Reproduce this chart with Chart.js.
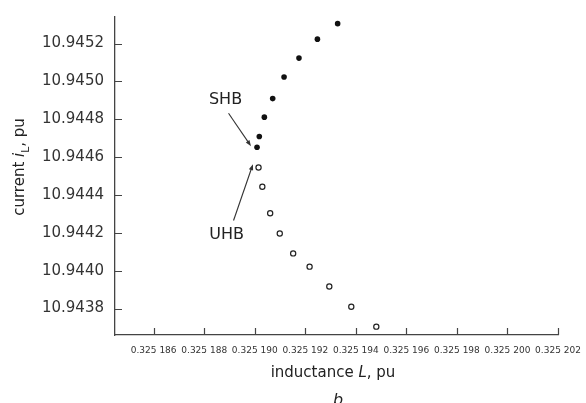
<!DOCTYPE html>
<html>
<head>
<meta charset="utf-8">
<script src="https://cdn.jsdelivr.net/npm/chart.js@4.4.0/dist/chart.umd.min.js"></script>
<style>
html,body{margin:0;padding:0;background:#fff;}
</style>
</head>
<body>
<canvas id="myChart" width="586" height="403"></canvas>
<script>
// inductance L, pu / current iL, pu
var shbL = [0.32519328, 0.32519248, 0.32519175, 0.32519116, 0.32519071, 0.32519038, 0.32519018, 0.32519009];
var shbI = [10.945305, 10.945223, 10.945123, 10.945023, 10.944909, 10.944811, 10.944709, 10.944652];
var uhbL = [0.32519015, 0.32519030, 0.32519061, 0.32519099, 0.32519152, 0.32519217, 0.32519295, 0.32519382, 0.32519481];
var uhbI = [10.944545, 10.944443, 10.944303, 10.944196, 10.944091, 10.944021, 10.943916, 10.943809, 10.943704];

var xTicks = [0.325186, 0.325188, 0.325190, 0.325192, 0.325194, 0.325196, 0.325198, 0.325200, 0.325202];
var yTicks = [10.9438, 10.9440, 10.9442, 10.9444, 10.9446, 10.9448, 10.9450, 10.9452];
var xMin = 0.32518447, xMax = 0.325202;
var yMin = 10.94366, yMax = 10.94534;

function pts(xs, ys) {
    return xs.map(function (v, i) { return {x: v, y: ys[i]}; });
}

// draws a run of text pieces (plain / italic / subscript) centred on x
function richText(ctx, parts, x, y, size) {
    var w = 0;
    parts.forEach(function (p) {
        ctx.font = (p.it ? 'italic ' : '') + (p.sub ? size * 0.72 : size) + 'px "DejaVu Sans"';
        p.w = ctx.measureText(p.t).width;
        w += p.w;
    });
    var cx = x - w / 2;
    parts.forEach(function (p) {
        ctx.font = (p.it ? 'italic ' : '') + (p.sub ? size * 0.72 : size) + 'px "DejaVu Sans"';
        ctx.fillText(p.t, cx, y + (p.sub ? size * 0.3 : 0));
        cx += p.w;
    });
}

function arrow(ctx, x1, y1, x2, y2) {
    var a = Math.atan2(y2 - y1, x2 - x1);
    ctx.beginPath();
    ctx.moveTo(x1, y1);
    ctx.lineTo(x2 - 4 * Math.cos(a), y2 - 4 * Math.sin(a));
    ctx.stroke();
    ctx.beginPath();
    ctx.moveTo(x2, y2);
    ctx.lineTo(x2 - 6 * Math.cos(a) + 2.2 * Math.sin(a), y2 - 6 * Math.sin(a) - 2.2 * Math.cos(a));
    ctx.lineTo(x2 - 6 * Math.cos(a) - 2.2 * Math.sin(a), y2 - 6 * Math.sin(a) + 2.2 * Math.cos(a));
    ctx.closePath();
    ctx.fill();
}

var decor = {
    id: 'decor',
    afterDraw: function (chart) {
        var ctx = chart.ctx, xs = chart.scales.x, ys = chart.scales.y, area = chart.chartArea;
        ctx.save();
        // inward tick marks
        ctx.strokeStyle = '#444';
        ctx.lineWidth = 1.2;
        ctx.beginPath();
        xTicks.forEach(function (v) {
            var px = Math.round(xs.getPixelForValue(v)) + 0.5;
            ctx.moveTo(px, area.bottom);
            ctx.lineTo(px, area.bottom - 7);
        });
        yTicks.forEach(function (v) {
            var py = Math.round(ys.getPixelForValue(v)) + 0.5;
            ctx.moveTo(area.left, py);
            ctx.lineTo(area.left + 7, py);
        });
        ctx.stroke();

        // axis titles
        ctx.fillStyle = '#222';
        ctx.textBaseline = 'alphabetic';
        ctx.textAlign = 'left';
        richText(ctx, [{t: 'inductance '}, {t: 'L', it: true}, {t: ', pu'}], 333, 377, 15);
        richText(ctx, [{t: 'b', it: true}], 338, 405, 16);
        ctx.save();
        ctx.translate(24, 167);
        ctx.rotate(-Math.PI / 2);
        richText(ctx, [{t: 'current '}, {t: 'i', it: true}, {t: 'L', sub: true}, {t: ', pu'}], 0, 0, 15);
        ctx.restore();

        // SHB / UHB labels with arrows
        var s = {x: xs.getPixelForValue(shbL[7]), y: ys.getPixelForValue(shbI[7])};
        var u = {x: xs.getPixelForValue(uhbL[0]), y: ys.getPixelForValue(uhbI[0])};
        ctx.font = '16px "DejaVu Sans"';
        ctx.textAlign = 'center';
        ctx.textBaseline = 'middle';
        ctx.fillText('SHB', s.x - 31.5, s.y - 47);
        ctx.fillText('UHB', u.x - 32, u.y + 67);
        ctx.strokeStyle = '#333';
        ctx.fillStyle = '#333';
        ctx.lineWidth = 1.1;
        arrow(ctx, s.x - 28.5, s.y - 34, s.x - 6, s.y - 1);
        arrow(ctx, u.x - 25, u.y + 53, u.x - 5.6, u.y - 3.3);
        ctx.restore();
    }
};

var myChart = document.getElementById('myChart').getContext('2d');
Chart.defaults.font.family = 'DejaVu Sans';
Chart.defaults.color = '#333';

var bifChart = new Chart(myChart, {
    type: 'scatter',
    data: {
        datasets: [{
            label: 'SHB',
            data: pts(shbL, shbI),
            pointRadius: 2.8,
            pointBackgroundColor: '#111',
            pointBorderColor: '#111',
            pointBorderWidth: 0
        }, {
            label: 'UHB',
            data: pts(uhbL, uhbI),
            pointRadius: 2.6,
            pointBackgroundColor: '#fff',
            pointBorderColor: '#222',
            pointBorderWidth: 1.2
        }]
    },
    options: {
        responsive: false,
        animation: false,
        layout: {padding: {top: 17, right: 28, left: 0, bottom: 0}},
        plugins: {legend: {display: false}, tooltip: {enabled: false}},
        scales: {
            x: {
                type: 'linear',
                min: xMin,
                max: xMax,
                afterBuildTicks: function (s) { s.ticks = xTicks.map(function (v) { return {value: v}; }); },
                afterFit: function (s) { s.height = 68; s.paddingLeft = 0; s.paddingRight = 0; },
                grid: {drawOnChartArea: false, drawTicks: false},
                border: {color: '#444', width: 1.3},
                ticks: {
                    autoSkip: false, maxRotation: 0, padding: 10,
                    font: {size: 9},
                    callback: function (v) { return '0.325 ' + Math.round((v - 0.325) * 1e6); }
                }
            },
            y: {
                type: 'linear',
                min: yMin,
                max: yMax,
                afterBuildTicks: function (s) { s.ticks = yTicks.map(function (v) { return {value: v}; }); },
                afterFit: function (s) { s.width = 115; s.paddingTop = 0; s.paddingBottom = 0; },
                grid: {drawOnChartArea: false, drawTicks: false},
                border: {color: '#444', width: 1.3},
                ticks: {
                    padding: 11,
                    font: {size: 15},
                    callback: function (v) { return v.toFixed(4); }
                }
            }
        }
    },
    plugins: [decor]
});
</script>
</body>
</html>
